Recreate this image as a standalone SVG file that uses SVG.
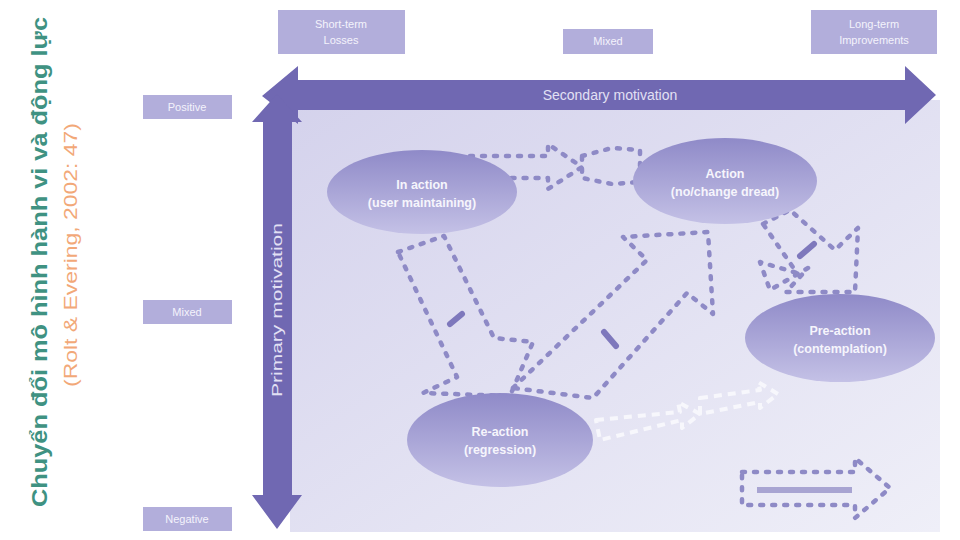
<svg xmlns="http://www.w3.org/2000/svg" width="960" height="540" viewBox="0 0 960 540">
<defs>
<linearGradient id="panel" x1="0" y1="0" x2="1" y2="1">
<stop offset="0" stop-color="#d4d2ec"/>
<stop offset="1" stop-color="#efeff8"/>
</linearGradient>
<linearGradient id="ell" x1="0" y1="0" x2="0" y2="1">
<stop offset="0" stop-color="#8f8ac8"/>
<stop offset="1" stop-color="#c4c1e6"/>
</linearGradient>
<style>
.box{fill:#b2aedb}
.btxt{font-family:"Liberation Sans",Arial,sans-serif;font-size:11px;fill:#f4f3fb;text-anchor:middle}
.etxt{font-family:"Liberation Sans",Arial,sans-serif;font-size:12.5px;font-weight:bold;fill:#f6f5fc;text-anchor:middle}
.axis{fill:#7068b2}
.atxt{font-family:"Liberation Sans",Arial,sans-serif;font-size:14px;fill:#e2e0f4;text-anchor:middle}
.dash{fill:none;stroke:#8e8ac6;stroke-width:4.5;stroke-dasharray:3 9;stroke-linecap:round;stroke-linejoin:round}
.faint{fill:none;stroke:#f7f7fc;stroke-width:4;stroke-dasharray:8 6;stroke-linejoin:round}
.mark{stroke:#7e78bc;stroke-width:6;stroke-linecap:round}
</style>
</defs>
<rect width="960" height="540" fill="#ffffff"/>
<g id="title">
<text transform="translate(47,262) rotate(-90)" text-anchor="middle" font-family="'Liberation Sans',Arial,sans-serif" font-size="22" font-weight="bold" fill="#3f9282" textLength="490" lengthAdjust="spacingAndGlyphs">Chuyển đổi mô hình hành vi và động lực</text>
<text transform="translate(77,255) rotate(-90)" text-anchor="middle" font-family="'Liberation Sans',Arial,sans-serif" font-size="18" fill="#f2a878" textLength="264" lengthAdjust="spacingAndGlyphs">(Rolt &amp; Evering, 2002: 47)</text>
</g>
<rect id="panel" x="290" y="100" width="650" height="432" fill="url(#panel)"/>
<g id="axes">
<polygon class="axis" points="262,96 298,66 298,80 905,80 905,66 936,95 905,124 905,110 298,110 298,124"/>
<polygon class="axis" points="277,94 302,122 292,122 292,495 302,495 277,529 252,495 263,495 263,122 252,122"/>
<text class="atxt" x="610" y="100">Secondary motivation</text>
<text class="atxt" transform="translate(282,310) rotate(-90)" textLength="174" lengthAdjust="spacingAndGlyphs">Primary motivation</text>
</g>
<g id="top-boxes">
<g id="box-short"><rect class="box" x="278" y="10" width="127" height="44"/><text class="btxt" x="341" y="28">Short-term</text><text class="btxt" x="341" y="44">Losses</text></g>
<g id="box-mixed-top"><rect class="box" x="563" y="29" width="90" height="25"/><text class="btxt" x="608" y="45">Mixed</text></g>
<g id="box-long"><rect class="box" x="811" y="10" width="126" height="44"/><text class="btxt" x="874" y="28">Long-term</text><text class="btxt" x="874" y="44">Improvements</text></g>
</g>
<g id="side-boxes">
<g id="box-positive"><rect class="box" x="143" y="95" width="89" height="24"/><text class="btxt" x="187" y="111">Positive</text></g>
<g id="box-mixed-side"><rect class="box" x="143" y="300" width="89" height="24"/><text class="btxt" x="187" y="316">Mixed</text></g>
<g id="box-negative"><rect class="box" x="143" y="507" width="89" height="24"/><text class="btxt" x="187" y="523">Negative</text></g>
</g>
<g id="connectors">
<polygon class="dash" points="470,156 548,156 548,144 582,167 548,189 548,178 470,178"/>
<polygon class="dash" points="582,156 612,148 640,150 640,182 612,184 582,178"/>
<polygon class="dash" points="398,252 444,236 494,338 533,342 510,396 423,393 457,377"/>
<line class="mark" x1="450" y1="324" x2="462" y2="314"/>
<polygon class="dash" points="513,388 647,260 623,237 708,232 713,314 687,293 593,398"/>
<line class="mark" x1="604" y1="332" x2="616" y2="346"/>
<polygon class="dash" points="763,224 790,210 835,250 858,228 855,292 786,292 808,268 770,290 760,262 797,273"/>
<line class="mark" x1="800" y1="256" x2="814" y2="244"/>
<polygon class="faint" points="596,420 680,412 678,402 700,414 682,428 682,420 600,440"/>
<polygon class="faint" points="700,398 760,390 758,382 778,394 760,408 760,402 700,414"/>
</g>
<g id="node-inaction"><ellipse cx="422" cy="192" rx="95" ry="42" fill="url(#ell)"/><text class="etxt" x="422" y="189">In action</text><text class="etxt" x="422" y="207">(user maintaining)</text></g>
<g id="node-action"><ellipse cx="725" cy="181" rx="92" ry="43" fill="url(#ell)"/><text class="etxt" x="725" y="178">Action</text><text class="etxt" x="725" y="196">(no/change dread)</text></g>
<g id="node-preaction"><ellipse cx="840" cy="338" rx="95" ry="44" fill="url(#ell)"/><text class="etxt" x="840" y="335">Pre-action</text><text class="etxt" x="840" y="353">(contemplation)</text></g>
<g id="node-reaction"><ellipse cx="500" cy="440" rx="93" ry="47" fill="url(#ell)"/><text class="etxt" x="500" y="436">Re-action</text><text class="etxt" x="500" y="454">(regression)</text></g>
<g id="legend">
<polygon class="dash" points="742,472 855,472 855,458 890,488 855,518 855,505 742,505"/>
<line x1="757" y1="490" x2="852" y2="490" stroke="#a8a4d2" stroke-width="6"/>
</g>
</svg>
